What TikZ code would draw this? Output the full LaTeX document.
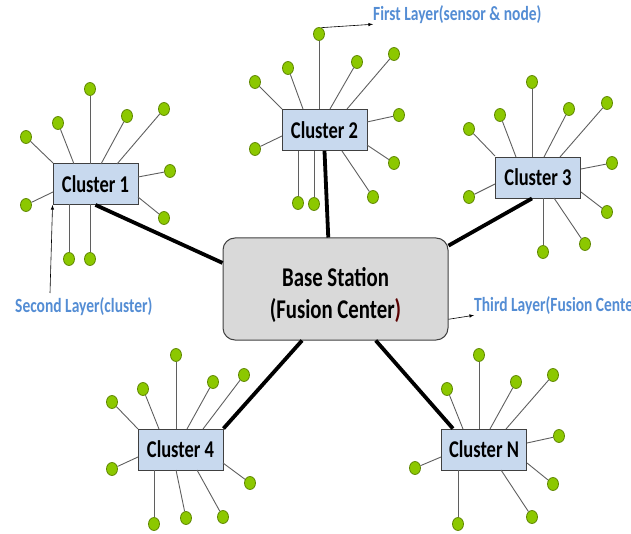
\documentclass[tikz,border=0pt]{standalone}
\usepackage{graphicx}
\usepackage{fontspec}
\setmainfont{Carlito}
\usepackage{tikz}
\usetikzlibrary{shapes.geometric}

\definecolor{sensorfill}{RGB}{140,200,0}
\definecolor{sensorline}{RGB}{95,135,0}
\definecolor{clusterfill}{RGB}{200,217,238}
\definecolor{stationfill}{RGB}{217,217,217}
\definecolor{boxline}{RGB}{64,64,64}
\definecolor{linkgray}{RGB}{95,95,95}
\definecolor{labelblue}{RGB}{84,141,212}

% text in the drawing is stretched a little upright
\newcommand{\tallt}[1]{\scalebox{1}[1.3]{#1}}

\begin{document}
\begin{tikzpicture}[
x=1pt, y=-1pt,
sensor/.style={
  ellipse,
  draw=sensorline,
  fill=sensorfill,
  line width=0.8pt,
  minimum width=11pt,
  minimum height=13pt,
  inner sep=0pt
  },
cluster/.style={
  draw=boxline,
  fill=clusterfill,
  line width=0.9pt,
  minimum width=85pt,
  minimum height=41pt,
  inner sep=0pt,
  font=\fontsize{18.5}{22}\selectfont\bfseries
  },
station/.style={
  draw=boxline,
  fill=stationfill,
  line width=1pt,
  rounded corners=12pt,
  minimum width=225pt,
  minimum height=102pt,
  align=center,
  font=\fontsize{20.8}{32}\selectfont\bfseries
  },
link/.style={draw=linkgray, line width=0.9pt},
trunk/.style={draw=black, line width=3.8pt},
layer/.style={
  anchor=west,
  inner sep=0pt,
  text=labelblue,
  font=\fontsize{15.5}{18}\selectfont\bfseries
  },
pointer/.style={-latex, line width=0.6pt}
]
\useasboundingbox (0,0) rectangle (631,534);
\clip (0,0) rectangle (631,534);

% clusters and base station
\node[station] (bs) at (335.5,289) {\rule{0pt}{31pt}\tallt{Base Station}\\\tallt{(Fusion Center\textcolor{black!65!red}{)}}};
\node[cluster] (c1) at (95.5,184) {\tallt{Cluster 1}};
\node[cluster] (c2) at (324.5,130) {\tallt{Cluster 2}};
\node[cluster] (c3) at (538,177.5) {\tallt{Cluster 3}};
\node[cluster] (c4) at (180.5,449.5) {\tallt{Cluster 4}};
\node[cluster] (cn) at (484,449.5) {\tallt{Cluster N}};

% sensors: x/y of sensor, x/y where its link meets the cluster
\foreach \sx/\sy/\ax/\ay [count=\i] in {
  90/89/90/164, 58/123/74/164, 26/137/53/163, 127/116/101/164,
  164/109/117/164, 170/171/138/177, 164/218/138/197, 26/205/53/192,
  69/259/69/204, 90/259/90/204}
{
  \node[sensor] (c1s\i) at (\sx,\sy) {};
  \coordinate (c1a\i) at (\ax,\ay);
  \draw[link] (c1s\i) -- (c1a\i);
}
\foreach \sx/\sy/\ax/\ay [count=\i] in {
  319/34/319/109, 288/68/303/109, 255/82/282/109, 357/62/330/109,
  394/54/347/109, 399/115/367/122, 394/163/367/145, 255/149/282/136,
  298/203/298/151, 314/204/314/151, 373/197/342/151}
{
  \node[sensor] (c2s\i) at (\sx,\sy) {};
  \coordinate (c2a\i) at (\ax,\ay);
  \draw[link] (c2s\i) -- (c2a\i);
}
\foreach \sx/\sy/\ax/\ay [count=\i] in {
  532/82/532/157, 500/115/516/157, 469/129/495/156, 569/109/544/157,
  607/103/560/157, 612/163/581/169, 607/212/581/192, 469/197/495/184,
  543/252/543/198, 585/244/554/198}
{
  \node[sensor] (c3s\i) at (\sx,\sy) {};
  \coordinate (c3a\i) at (\ax,\ay);
  \draw[link] (c3s\i) -- (c3a\i);
}
\foreach \sx/\sy/\ax/\ay [count=\i] in {
  176/355/176/429, 143/389/159/429, 112/402/138/429, 213/382/187/429,
  244/375/203/429, 250/483/223/463, 112/469/138/457, 154/524/154/470,
  186/518/176/470, 223/517/197/470}
{
  \node[sensor] (c4s\i) at (\sx,\sy) {};
  \coordinate (c4a\i) at (\ax,\ay);
  \draw[link] (c4s\i) -- (c4a\i);
}
\foreach \sx/\sy/\ax/\ay [count=\i] in {
  479/355/479/429, 447/389/463/429, 516/382/490/429, 553/375/506/429,
  559/436/527/443, 553/484/527/463, 415/468/441/457, 458/524/458/470,
  532/517/501/470}
{
  \node[sensor] (cns\i) at (\sx,\sy) {};
  \coordinate (cna\i) at (\ax,\ay);
  \draw[link] (cns\i) -- (cna\i);
}

% links to the base station
\draw[trunk] (c1.south) -- (bs.167);
\draw[trunk] (c2.south) -- (bs.98);
\draw[trunk] (c3.254) -- (bs.21);
\draw[trunk] (c4.north east) -- (bs.237);
\draw[trunk] (cn.146) -- (bs.308);

% layer labels
\node[layer] (first) at (373,15) {\tallt{First Layer(sensor \& node)}};
\node[layer] (second) at (15,307) {\tallt{Second Layer(cluster)}};
\node[layer] (third) at (474,306) {\tallt{Third Layer(Fusion Center)}};
\coordinate (p2) at (50,293);
\draw[pointer] (c2s1.70) -- (first.south west);
\draw[pointer] (p2) -- (c1.south west);
\draw[pointer] (bs.345) -- (third.south west);
\end{tikzpicture}
\end{document}
